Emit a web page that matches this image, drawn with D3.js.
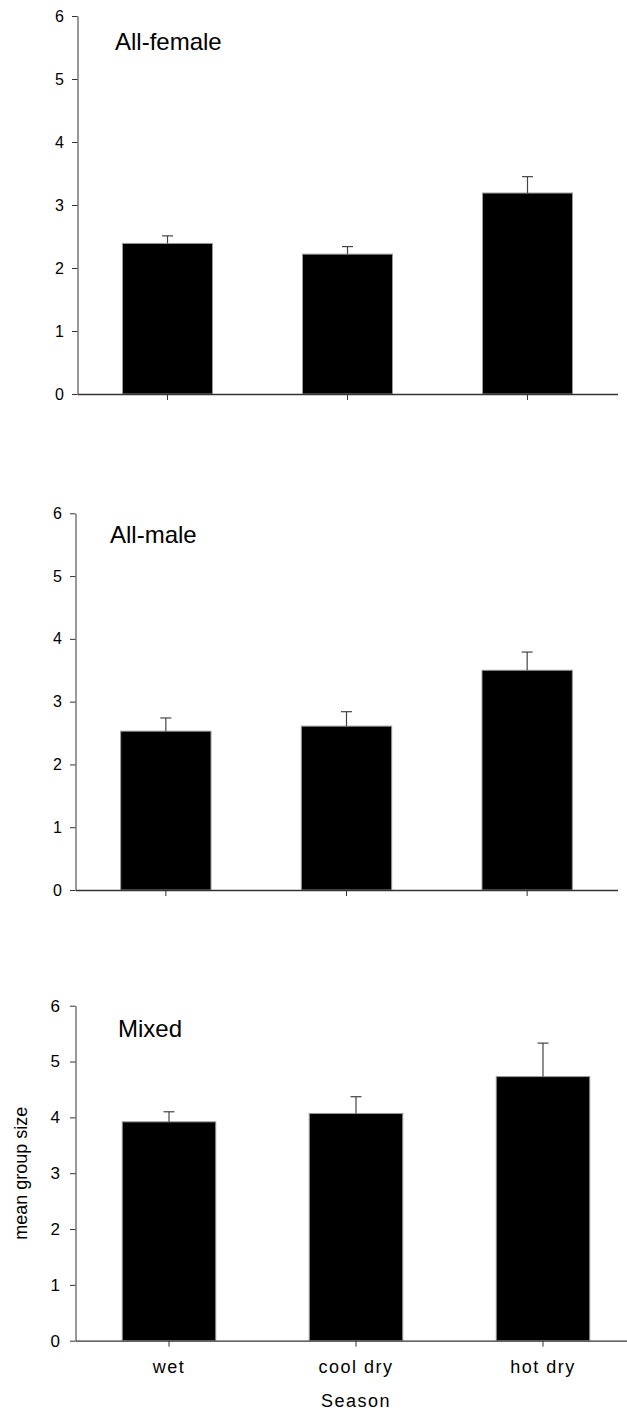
<!DOCTYPE html>
<html>
<head>
<meta charset="utf-8">
<script src="https://cdn.jsdelivr.net/npm/d3@7"></script>
<style>
  html, body { margin: 0; padding: 0; background: #fff; }
  svg { display: block; font-family: "Liberation Sans", Arial, Helvetica, sans-serif; }
</style>
</head>
<body>
<svg id="chart" width="627" height="1414"></svg>
<script>
// Seasons on the x axis and y ticks shared by all three panels
const seasons = ["wet", "cool dry", "hot dry"];
const yTicks = [0, 1, 2, 3, 4, 5, 6];
const panelTitles = ["All-female", "All-male", "Mixed"];

// Mean group size and standard error per season
const femaleMeans = [2.39, 2.22, 3.19];
const femaleSE    = [0.12, 0.12, 0.26];
const maleMeans   = [2.53, 2.61, 3.50];
const maleSE      = [0.21, 0.23, 0.29];
const mixedMeans  = [3.92, 4.07, 4.73];
const mixedSE     = [0.18, 0.30, 0.60];

const xTitle = "Season";
const yTitle = "mean group size";

// Panel geometry (pixels)
const layouts = [
  { left: 77.5, right: 617.5, top: 16,    bottom: 394,    tickFont: 16, labelGap: 8 },
  { left: 75.5, right: 617.5, top: 513.3, bottom: 890,    tickFont: 16, labelGap: 8 },
  { left: 75.5, right: 636.5, top: 1005.7, bottom: 1340.7, tickFont: 17, labelGap: 10 }
];
const titlePos = [ { x: 115, y: 50 }, { x: 110, y: 542.7 }, { x: 118, y: 1036.7 } ];

const panels = [
  { title: panelTitles[0], means: femaleMeans, se: femaleSE },
  { title: panelTitles[1], means: maleMeans,   se: maleSE },
  { title: panelTitles[2], means: mixedMeans,  se: mixedSE }
];

const svg = d3.select("#chart");
const axisColor = "#333";

panels.forEach((p, i) => {
  const L = layouts[i];
  const last = i === panels.length - 1;
  const g = svg.append("g");

  const x = d3.scaleBand().domain(seasons).range([L.left, L.right])
    .paddingInner(0.5).paddingOuter(0.25);
  const y = d3.scaleLinear().domain([0, 6]).range([L.bottom, L.top]);

  const rows = seasons.map((s, k) => ({ season: s, mean: p.means[k], se: p.se[k] }));

  // bars
  g.selectAll("rect.bar").data(rows).join("rect")
    .attr("class", "bar")
    .attr("x", d => x(d.season))
    .attr("width", x.bandwidth())
    .attr("y", d => y(d.mean))
    .attr("height", d => y(0) - y(d.mean))
    .attr("fill", "#000")
    .attr("stroke", "#999")
    .attr("stroke-width", 1);

  // upper error bars
  const eb = g.selectAll("g.err").data(rows).join("g").attr("class", "err")
    .attr("stroke", "#444").attr("stroke-width", 1.2);
  eb.append("line")
    .attr("x1", d => x(d.season) + x.bandwidth() / 2)
    .attr("x2", d => x(d.season) + x.bandwidth() / 2)
    .attr("y1", d => y(d.mean))
    .attr("y2", d => y(d.mean + d.se));
  eb.append("line")
    .attr("x1", d => x(d.season) + x.bandwidth() / 2 - 5.5)
    .attr("x2", d => x(d.season) + x.bandwidth() / 2 + 5.5)
    .attr("y1", d => y(d.mean + d.se))
    .attr("y2", d => y(d.mean + d.se));

  // y axis
  const yAxis = g.append("g")
    .attr("transform", `translate(${L.left},0)`)
    .style("color", axisColor)
    .call(d3.axisLeft(y).tickValues(yTicks).tickFormat(d3.format("d"))
      .tickSize(5.5).tickPadding(L.labelGap).tickSizeOuter(0));
  yAxis.selectAll("text")
    .attr("fill", "#000")
    .style("font-size", L.tickFont + "px")
    .style("font-family", "\"Liberation Sans\", Arial, sans-serif");

  // x axis
  const xAxis = g.append("g")
    .attr("transform", `translate(0,${L.bottom})`)
    .style("color", axisColor)
    .call(d3.axisBottom(x).tickSize(6).tickSizeOuter(0).tickPadding(14)
      .tickFormat(last ? (d => d) : () => ""));
  xAxis.select(".domain").attr("stroke-width", 1.3);
  xAxis.selectAll("text")
    .attr("fill", "#000")
    .attr("dy", 0)
    .attr("y", 32.6)
    .style("font-size", "18px")
    .style("letter-spacing", "1.5px")
    .style("font-family", "\"Liberation Sans\", Arial, sans-serif");

  // panel title
  g.append("text")
    .attr("x", titlePos[i].x)
    .attr("y", titlePos[i].y)
    .style("font-size", "24px")
    .attr("fill", "#000")
    .text(p.title);

  if (last) {
    g.append("text")
      .attr("x", x(seasons[1]) + x.bandwidth() / 2)
      .attr("y", L.bottom + 66.6)
      .attr("text-anchor", "middle")
      .style("font-size", "18px")
      .style("letter-spacing", "1.5px")
      .attr("fill", "#000")
      .text(xTitle);

    g.append("text")
      .attr("transform", `translate(27,${(L.top + L.bottom) / 2}) rotate(-90)`)
      .attr("text-anchor", "middle")
      .style("font-size", "18px")
      .attr("fill", "#000")
      .text(yTitle);
  }
});
</script>
</body>
</html>
